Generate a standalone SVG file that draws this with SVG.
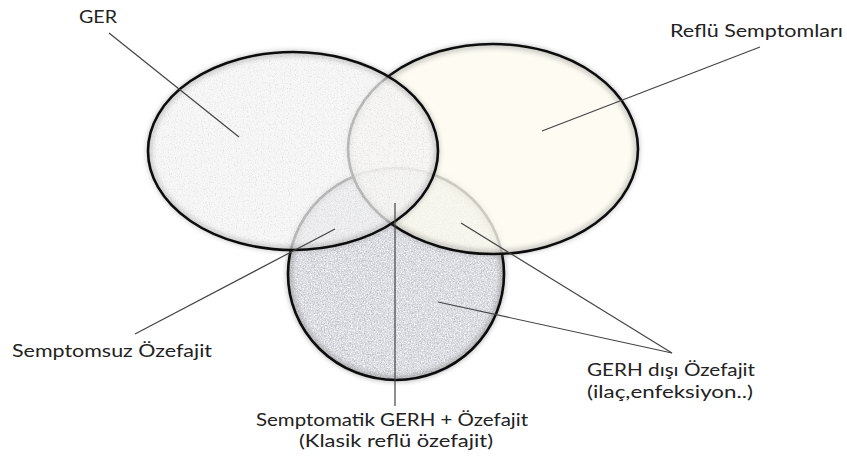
<svg xmlns="http://www.w3.org/2000/svg" width="847" height="461" viewBox="0 0 847 461">
<style>
.lbl{font-family:Lato,"Open Sans","Liberation Sans",sans-serif;font-size:17px;fill:#222}
.edge{fill:none;stroke:#0d0d0d;stroke-width:2.6}
.soft{fill:none;stroke:#777;stroke-width:7;opacity:0.4;filter:url(#blur)}
.lead{stroke:#444;stroke-width:1.2;fill:none}
</style>
<defs>
<filter id="blur" x="-10%" y="-10%" width="120%" height="120%"><feGaussianBlur stdDeviation="2"/></filter>
<filter id="speckLight" x="0" y="0" width="100%" height="100%">
<feTurbulence type="fractalNoise" baseFrequency="0.85" numOctaves="2" seed="4" result="t"/>
<feColorMatrix in="t" type="matrix" values="0 0 0 0 0.6 0 0 0 0 0.6 0 0 0 0 0.64 2.2 0 0 0 -1.1" result="d"/>
<feComposite in="d" in2="SourceGraphic" operator="in" result="dc"/>
<feMerge><feMergeNode in="SourceGraphic"/><feMergeNode in="dc"/></feMerge>
</filter>
<filter id="speckDark" x="0" y="0" width="100%" height="100%">
<feTurbulence type="fractalNoise" baseFrequency="0.7" numOctaves="2" seed="9" result="t"/>
<feColorMatrix in="t" type="matrix" values="0 0 0 0 0.52 0 0 0 0 0.52 0 0 0 0 0.58 3.5 0 0 0 -1.6" result="d"/>
<feComposite in="d" in2="SourceGraphic" operator="in" result="dc"/>
<feTurbulence type="fractalNoise" baseFrequency="0.7" numOctaves="2" seed="21" result="t2"/>
<feColorMatrix in="t2" type="matrix" values="0 0 0 0 1 0 0 0 0 1 0 0 0 0 1 3 0 0 0 -1.45" result="w"/>
<feComposite in="w" in2="SourceGraphic" operator="in" result="wc"/>
<feMerge><feMergeNode in="SourceGraphic"/><feMergeNode in="dc"/><feMergeNode in="wc"/></feMerge>
</filter>
</defs>
<rect width="847" height="461" fill="#ffffff"/>

<g id="node-ozefajit">
<ellipse cx="396" cy="274" rx="108" ry="106" fill="#dcdde2" filter="url(#speckDark)"/>
<ellipse class="soft" cx="396" cy="274" rx="107" ry="105"/>
<ellipse class="edge" cx="396" cy="274" rx="108" ry="106"/>
</g>

<g id="node-reflu">
<g opacity="0.8">
<ellipse cx="493" cy="149" rx="145" ry="105" fill="#fdfbef"/>
<ellipse class="soft" cx="493" cy="149" rx="144" ry="104"/>
</g>
<ellipse class="edge" cx="493" cy="149" rx="145" ry="105"/>
</g>

<g id="node-ger">
<g opacity="0.75">
<ellipse cx="293" cy="151" rx="145" ry="99" fill="#f5f5f5" filter="url(#speckLight)"/>
<ellipse class="soft" cx="293" cy="151" rx="144" ry="98"/>
</g>
<ellipse class="edge" cx="293" cy="151" rx="145" ry="99"/>
</g>

<g id="connectors">
<line class="lead" x1="109" y1="33" x2="239" y2="137"/>
<line class="lead" x1="760" y1="47" x2="542" y2="131"/>
<line class="lead" x1="135" y1="334" x2="335" y2="229"/>
<line class="lead" x1="395" y1="203" x2="395" y2="406"/>
<line class="lead" x1="672" y1="353" x2="461" y2="223"/>
<line class="lead" x1="672" y1="353" x2="438" y2="302"/>
</g>

<g id="labels">
<text class="lbl" x="79" y="23" textLength="38" lengthAdjust="spacingAndGlyphs">GER</text>
<text class="lbl" x="670" y="37" textLength="173" lengthAdjust="spacingAndGlyphs">Reflü Semptomları</text>
<text class="lbl" x="12" y="357" textLength="200" lengthAdjust="spacingAndGlyphs">Semptomsuz Özefajit</text>
<text class="lbl" x="256" y="426" textLength="272" lengthAdjust="spacingAndGlyphs">Semptomatik GERH + Özefajit</text>
<text class="lbl" x="299" y="447" textLength="194" lengthAdjust="spacingAndGlyphs">(Klasik reflü özefajit)</text>
<text class="lbl" x="587" y="376" textLength="168" lengthAdjust="spacingAndGlyphs">GERH dışı Özefajit</text>
<text class="lbl" x="587" y="398" textLength="166" lengthAdjust="spacingAndGlyphs">(ilaç,enfeksiyon..)</text>
</g>
</svg>
